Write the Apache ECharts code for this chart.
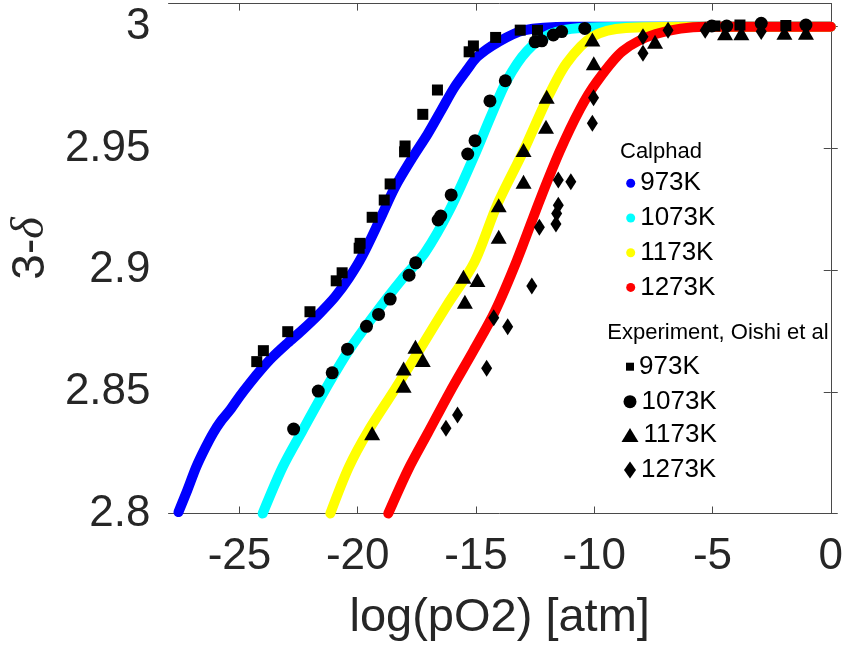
<!DOCTYPE html>
<html>
<head>
<meta charset="utf-8">
<script src="https://cdn.jsdelivr.net/npm/echarts@6/dist/echarts.min.js"></script>
<style>
  html, body { margin: 0; padding: 0; background: #ffffff; }
  #chart { width: 846px; height: 652px; }
</style>
</head>
<body>
<div id="chart"></div>
<script>
// Temperatures shared by the model curves and the measurements
const temperatures = ['973K', '1073K', '1173K', '1273K'];
const curveColors = ['#0000ff', '#00ffff', '#ffff00', '#ff0000'];

// Calphad model: [log(pO2), 3-delta]
const calphad973 = [[-27.58,2.8006],[-27.20,2.8097],[-26.83,2.8191],[-26.45,2.8269],[-26.11,2.8331],[-25.78,2.8380],[-25.40,2.8425],[-24.98,2.8483],[-24.56,2.8536],[-24.10,2.8590],[-23.60,2.8643],[-22.97,2.8700],[-22.34,2.8754],[-21.63,2.8820],[-20.96,2.8890],[-20.37,2.8968],[-19.83,2.9054],[-19.1,2.920],[-18.43,2.934],[-17.7,2.946],[-17.04,2.956],[-16.45,2.966],[-15.92,2.975],[-15.4,2.982],[-14.94,2.9877],[-14.1,2.9935],[-12.99,2.9985],[-11,3.0],[0,3.0]];
const calphad1073 = [[-24.02,2.800],[-23.18,2.819],[-22.34,2.834],[-21.22,2.8535],[-20.38,2.867],[-19.27,2.882],[-18.15,2.896],[-17.17,2.907],[-16.1,2.925],[-15.07,2.947],[-14.38,2.963],[-13.69,2.978],[-12.85,2.990],[-11.87,2.997],[-10.6,2.9995],[-8,3.0],[0,3.0]];
const calphad1173 = [[-21.16,2.800],[-20.38,2.819],[-19.55,2.834],[-18.43,2.851],[-17.31,2.8685],[-16.2,2.886],[-15.08,2.903],[-14.1,2.927],[-12.99,2.949],[-12.01,2.970],[-11.17,2.985],[-10.06,2.996],[-8.66,2.9995],[-6,3.0],[0,3.0]];
const calphad1273 = [[-18.71,2.800],[-17.87,2.818],[-17.04,2.833],[-16.1,2.850],[-15.1,2.867],[-14.2,2.883],[-13.27,2.904],[-12.29,2.929],[-11.45,2.949],[-10.61,2.966],[-9.92,2.977],[-8.8,2.990],[-7.4,2.997],[-5.3,3.0],[-2.5,3.0],[0,3.0]];

// Measurements (Oishi et al): [log(pO2), 3-delta]
const oishi973 = [[-24.27,2.8624],[-23.99,2.8669],[-22.96,2.8747],[-22.02,2.8829],[-20.91,2.8956],[-20.66,2.8989],[-19.94,2.909],[-19.9,2.911],[-19.39,2.9217],[-18.88,2.9288],[-18.63,2.9354],[-18.02,2.9486],[-18.0,2.951],[-17.25,2.964],[-16.63,2.974],[-15.29,2.9897],[-15.11,2.9921],[-14.17,2.9956],[-13.13,2.9986],[-12.4,2.9985],[-4.9,3.0003],[-3.84,3.0007],[-1.9,3.0005]];
const oishi1073 = [[-22.71,2.8347],[-21.67,2.8503],[-21.08,2.8578],[-20.43,2.8675],[-19.63,2.8769],[-19.12,2.8818],[-18.63,2.8881],[-17.83,2.8979],[-17.55,2.903],[-16.6,2.9206],[-16.49,2.9222],[-16.05,2.9309],[-15.35,2.9477],[-15.04,2.9532],[-14.41,2.9695],[-13.76,2.9778],[-12.5,2.9938],[-12.22,2.9942],[-11.73,2.9966],[-11.38,2.998],[-10.4,2.9993],[-5.03,3.0003],[-4.4,3.0003],[-2.94,3.0014],[-1.05,3.0007]];
const oishi1173 = [[-19.39,2.833],[-18.06,2.8525],[-18.06,2.8596],[-17.56,2.8685],[-17.25,2.8631],[-15.53,2.8973],[-15.47,2.887],[-14.94,2.8959],[-14.04,2.9137],[-14.04,2.9267],[-12.99,2.9363],[-12.99,2.9493],[-12.04,2.9589],[-12.01,2.9712],[-10.08,2.9948],[-10.02,2.985],[-7.43,2.9938],[-4.47,2.9973],[-3.78,2.9973],[-1.96,2.9975],[-1.05,2.9975]];
const oishi1273 = [[-16.27,2.835],[-15.78,2.8405],[-14.55,2.8597],[-14.25,2.8804],[-13.66,2.8767],[-12.64,2.8935],[-12.32,2.9176],[-11.62,2.9189],[-11.59,2.9233],[-11.52,2.9267],[-11.52,2.937],[-10.99,2.9363],[-10.08,2.9603],[-10.03,2.9708],[-7.94,2.9891],[-7.94,2.9959],[-6.88,2.9986],[-5.31,2.9986],[-2.94,2.998]];

// Axis ticks
const xTicks = [-25, -20, -15, -10, -5, 0];
const yTicks = [2.8, 2.85, 2.9, 2.95, 3];

const calphadCurves = [calphad973, calphad1073, calphad1173, calphad1273];
const oishiPoints = [oishi973, oishi1073, oishi1173, oishi1273];

// Marker shapes for the measurement series
const markerShapes = ['rect', 'circle', 'triangle', 'diamond'];
const markerSizes = [[11, 11], [13, 13], [16, 14], [11, 17]];
const legendIconSizes = [[8, 8], [13, 13], [17, 14], [12, 17]];
const legendIconRows = [366.7, 401.7, 435, 470];

const FONT = '"Liberation Sans", Arial, Helvetica, sans-serif';
const AXIS_COLOR = '#262626';
const FRAME_COLOR = '#4a4a4a';

const chart = echarts.init(document.getElementById('chart'), null, { renderer: 'canvas' });

const tickLabel = v => String(+(+v).toFixed(2));

const series = [];
calphadCurves.forEach((curve, i) => {
  series.push({
    name: 'Calphad ' + temperatures[i],
    type: 'line',
    data: curve,
    smooth: 0.3,
    showSymbol: false,
    symbol: 'none',
    clip: false,
    z: 2,
    itemStyle: { color: curveColors[i] },
    lineStyle: { color: curveColors[i], width: 10, cap: 'round', join: 'round' }
  });
});
oishiPoints.forEach((pts, i) => {
  series.push({
    name: 'Oishi ' + temperatures[i],
    type: 'scatter',
    data: pts,
    symbol: markerShapes[i],
    symbolSize: markerSizes[i],
    z: 3,
    itemStyle: { color: '#000000', opacity: 1 }
  });
});

const legendText = { fontFamily: FONT, fontSize: 26, color: '#000000', lineHeight: 26, padding: [5, 0, 0, 0] };
const stripPrefix = name => name.replace(/^\S+\s/, '');

const legends = [{
  left: 626.2,
  top: 167.8,
  orient: 'vertical',
  padding: 0,
  itemGap: 3.7,
  itemWidth: 9,
  itemHeight: 9,
  icon: 'circle',
  selectedMode: false,
  formatter: stripPrefix,
  textStyle: legendText,
  data: temperatures.map(t => 'Calphad ' + t)
}];
temperatures.forEach((t, i) => {
  legends.push({
    left: 630 - legendIconSizes[i][0] / 2,
    top: legendIconRows[i] - 15.5,
    orient: 'vertical',
    padding: 0,
    itemWidth: legendIconSizes[i][0],
    itemHeight: legendIconSizes[i][1],
    icon: markerShapes[i],
    selectedMode: false,
    formatter: stripPrefix,
    textStyle: legendText,
    data: ['Oishi ' + t]
  });
});

const frameAxis = {
  axisLine: { show: true, lineStyle: { color: FRAME_COLOR, width: 1 } },
  splitLine: { show: false }
};

const option = {
  backgroundColor: '#ffffff',
  animation: false,
  title: [
    { text: 'Calphad', left: 620, top: 140.5, padding: 0,
      textStyle: { fontFamily: FONT, fontSize: 22, fontWeight: 'normal', color: '#000000', lineHeight: 22 } },
    { text: 'Experiment, Oishi et al', left: 607.3, top: 322, padding: 0,
      textStyle: { fontFamily: FONT, fontSize: 22, fontWeight: 'normal', color: '#000000', lineHeight: 22 } }
  ],
  legend: legends,
  grid: { left: 164.5, right: 12.5, top: 3.6, bottom: 138.5, containLabel: false },
  xAxis: [
    Object.assign({}, frameAxis, {
      type: 'value', position: 'bottom', min: -28, max: 0,
      name: 'log(pO2) [atm]', nameLocation: 'middle', nameGap: 81.5,
      nameTextStyle: { fontFamily: FONT, fontSize: 47, color: AXIS_COLOR, lineHeight: 47 },
      axisTick: { show: true, inside: true, length: 7, customValues: xTicks, lineStyle: { color: FRAME_COLOR } },
      axisLabel: { show: true, customValues: xTicks, margin: 21, fontFamily: FONT, fontSize: 44,
        lineHeight: 44, color: AXIS_COLOR, formatter: tickLabel }
    }),
    Object.assign({}, frameAxis, {
      type: 'value', position: 'top', min: -28, max: 0,
      axisTick: { show: true, inside: true, length: 7, customValues: xTicks, lineStyle: { color: FRAME_COLOR } },
      axisLabel: { show: false }
    })
  ],
  yAxis: [
    Object.assign({}, frameAxis, {
      type: 'value', position: 'left', min: 2.8, max: 3.0095,
      name: '{n|3-}{d|δ}', nameLocation: 'middle', nameGap: 112, nameRotate: 90,
      nameTextStyle: {
        fontFamily: FONT, fontSize: 46, color: AXIS_COLOR, padding: [0, 0, 0, 20],
        rich: {
          n: { fontFamily: FONT, fontSize: 46, color: AXIS_COLOR },
          d: { fontFamily: '"Liberation Serif", "DejaVu Serif", serif', fontStyle: 'italic', fontSize: 46, color: AXIS_COLOR }
        }
      },
      axisTick: { show: true, inside: true, length: 7, customValues: yTicks, lineStyle: { color: FRAME_COLOR } },
      axisLabel: { show: true, customValues: yTicks, margin: 18, fontFamily: FONT, fontSize: 44,
        color: AXIS_COLOR, padding: [5, 0, 0, 0], formatter: tickLabel }
    }),
    Object.assign({}, frameAxis, {
      type: 'value', position: 'right', min: 2.8, max: 3.0095,
      axisTick: { show: true, inside: true, length: 7, customValues: yTicks, lineStyle: { color: FRAME_COLOR } },
      axisLabel: { show: false }
    })
  ],
  series: series
};

chart.setOption(option);
</script>
</body>
</html>
